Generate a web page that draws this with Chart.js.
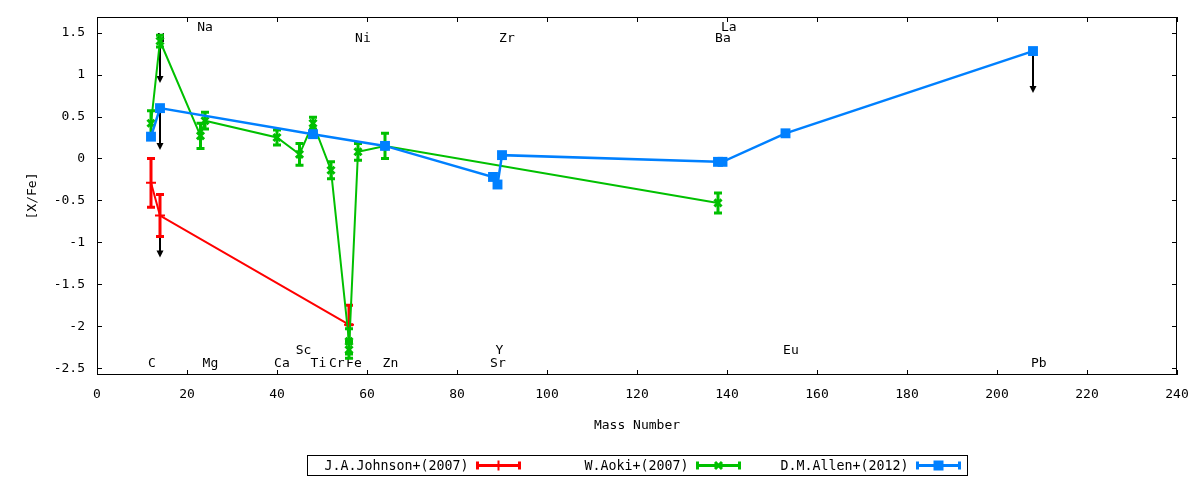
<!DOCTYPE html>
<html>
<head>
<meta charset="utf-8">
<script src="https://cdn.jsdelivr.net/npm/chart.js@4/dist/chart.umd.min.js"></script>
<style>
  html, body { margin: 0; padding: 0; background: #fff; }
</style>
</head>
<body>
<canvas id="myChart" width="1200" height="480"></canvas>
<script>
const FONT = "'DejaVu Sans Mono', monospace";

// J.A.Johnson+(2007)
const johnsonMass  = [12, 14, 56];
const johnsonVal   = [-0.29, -0.68, -1.98];
const johnsonErrUp = [0.29, 0.25, 0.23];
const johnsonErrDn = [0.29, 0.25, 0.0];
const johnsonLimit = [false, true, false];

// W.Aoki+(2007)
const aokiMass  = [12, 14, 23, 24, 40, 45, 48, 52, 56, 56, 58, 64, 138];
const aokiVal   = [0.42, 1.40, 0.27, 0.45, 0.25, 0.05, 0.42, -0.14, -2.18, -2.28, 0.08, 0.15, -0.53];
const aokiErr   = [0.15, 0.07, 0.15, 0.10, 0.09, 0.13, 0.07, 0.10, 0.15, 0.10, 0.10, 0.15, 0.12];
const aokiLimit = [false, true, false, false, false, false, false, false, false, false, false, false, false];

// D.M.Allen+(2012)
const allenMass  = [12, 14, 48, 64, 88, 89, 90, 138, 139, 153, 208];
const allenVal   = [0.26, 0.60, 0.29, 0.15, -0.22, -0.31, 0.04, -0.04, -0.04, 0.30, 1.28];
const allenErr   = [0, 0, 0, 0, 0, 0, 0, 0, 0, 0, 0];
const allenLimit = [false, true, false, false, false, false, false, false, false, false, true];

// element labels
const elemNames  = ['C', 'N', 'Na', 'Mg', 'Ca', 'Sc', 'Ti', 'Cr', 'Fe', 'Ni', 'Zn', 'Sr', 'Y', 'Zr', 'Ba', 'La', 'Eu', 'Pb'];
const elemLabelX = [12.2, 14.2, 24.0, 25.2, 41.1, 45.9, 49.2, 53.3, 57.1, 59.1, 65.2, 89.1, 89.4, 91.1, 139.1, 140.4, 154.2, 209.3];
const elemLabelY = [-2.44, 1.43, 1.56, -2.44, -2.44, -2.29, -2.44, -2.44, -2.44, 1.43, -2.44, -2.44, -2.29, 1.43, 1.43, 1.56, -2.29, -2.44];

const xTicks = [0, 20, 40, 60, 80, 100, 120, 140, 160, 180, 200, 220, 240];
const yTicks = [-2.5, -2, -1.5, -1, -0.5, 0, 0.5, 1, 1.5];
const arrowLen = 0.5;

const toPoints = (xs, ys) => xs.map((x, i) => ({x: x, y: ys[i]}));

const errInfo = [
  {up: johnsonErrUp, dn: johnsonErrDn, limit: johnsonLimit, color: '#ff0000'},
  {up: aokiErr, dn: aokiErr, limit: aokiLimit, color: '#00c000'},
  {up: allenErr, dn: allenErr, limit: allenLimit, color: '#0080ff'}
];

const decor = {
  id: 'decor',
  beforeDatasetsDraw(chart) {
    const ctx = chart.ctx, xs = chart.scales.x, ys = chart.scales.y;
    ctx.save();
    // element labels
    ctx.fillStyle = '#000';
    ctx.font = '13px ' + FONT;
    ctx.textAlign = 'center';
    ctx.textBaseline = 'middle';
    elemNames.forEach((n, i) => {
      ctx.fillText(n, xs.getPixelForValue(elemLabelX[i]), ys.getPixelForValue(elemLabelY[i]));
    });
    // upper-limit arrows
    ctx.strokeStyle = '#000';
    ctx.fillStyle = '#000';
    ctx.lineWidth = 2;
    chart.data.datasets.forEach((ds, di) => {
      ds.data.forEach((p, i) => {
        if (!errInfo[di].limit[i]) return;
        const px = xs.getPixelForValue(p.x);
        const y0 = ys.getPixelForValue(p.y);
        const y1 = ys.getPixelForValue(p.y - arrowLen);
        ctx.beginPath();
        ctx.moveTo(px, y0);
        ctx.lineTo(px, y1 - 5);
        ctx.stroke();
        ctx.beginPath();
        ctx.moveTo(px, y1);
        ctx.lineTo(px - 3.5, y1 - 7);
        ctx.lineTo(px + 3.5, y1 - 7);
        ctx.closePath();
        ctx.fill();
      });
    });
    ctx.restore();
  },
  beforeDatasetDraw(chart, args) {
    const info = errInfo[args.index];
    const ctx = chart.ctx, xs = chart.scales.x, ys = chart.scales.y;
    const area = chart.chartArea;
    ctx.save();
    ctx.beginPath();
    ctx.rect(area.left, area.top, area.right - area.left, area.bottom - area.top);
    ctx.clip();
    ctx.strokeStyle = info.color;
    ctx.lineWidth = 3;
    chart.data.datasets[args.index].data.forEach((p, i) => {
      if (!info.up[i] && !info.dn[i]) return;
      const px = xs.getPixelForValue(p.x);
      const yt = ys.getPixelForValue(p.y + info.up[i]);
      const yb = ys.getPixelForValue(p.y - info.dn[i]);
      ctx.beginPath();
      ctx.moveTo(px, yt); ctx.lineTo(px, yb);
      ctx.moveTo(px - 4, yt); ctx.lineTo(px + 4, yt);
      ctx.moveTo(px - 4, yb); ctx.lineTo(px + 4, yb);
      ctx.stroke();
    });
    ctx.restore();
  },
  afterDraw(chart) {
    const ctx = chart.ctx, xs = chart.scales.x, ys = chart.scales.y;
    const a = chart.chartArea;
    ctx.save();
    // frame and inward ticks on all four sides
    ctx.strokeStyle = '#000';
    ctx.lineWidth = 1;
    ctx.strokeRect(Math.round(a.left) + 0.5, Math.round(a.top) + 0.5,
                   Math.round(a.right - a.left) - 1, Math.round(a.bottom - a.top) - 1);
    ctx.beginPath();
    xTicks.forEach(v => {
      const px = Math.round(xs.getPixelForValue(v)) + 0.5;
      ctx.moveTo(px, a.bottom); ctx.lineTo(px, a.bottom - 5);
      ctx.moveTo(px, a.top); ctx.lineTo(px, a.top + 5);
    });
    yTicks.forEach(v => {
      const py = Math.round(ys.getPixelForValue(v)) + 0.5;
      ctx.moveTo(a.left, py); ctx.lineTo(a.left + 5, py);
      ctx.moveTo(a.right, py); ctx.lineTo(a.right - 5, py);
    });
    ctx.stroke();

    // legend box under the axis title
    const boxW = 660, boxH = 20;
    const boxX = Math.round((a.left + a.right) / 2 - boxW / 2) + 0.5;
    const boxY = 455.5;
    ctx.strokeRect(boxX, boxY, boxW, boxH);
    const entryW = boxW / chart.data.datasets.length;
    const cy = boxY + boxH / 2;
    ctx.font = '13.3px ' + FONT;
    ctx.textAlign = 'right';
    ctx.textBaseline = 'middle';
    chart.data.datasets.forEach((ds, i) => {
      const x0 = boxX + i * entryW;
      ctx.fillStyle = '#000';
      ctx.fillText(ds.label, x0 + 161, cy + 1);
      const s0 = x0 + 170, s1 = x0 + 212, sm = (s0 + s1) / 2;
      ctx.strokeStyle = ds.borderColor;
      ctx.fillStyle = ds.borderColor;
      ctx.lineWidth = 3;
      ctx.beginPath();
      ctx.moveTo(s0, cy); ctx.lineTo(s1, cy);
      ctx.moveTo(s0, cy - 4); ctx.lineTo(s0, cy + 4);
      ctx.moveTo(s1, cy - 4); ctx.lineTo(s1, cy + 4);
      ctx.stroke();
      ctx.lineWidth = ds.pointBorderWidth;
      ctx.beginPath();
      if (ds.pointStyle === 'cross') {
        ctx.moveTo(sm, cy - 5); ctx.lineTo(sm, cy + 5);
        ctx.moveTo(sm - 5, cy); ctx.lineTo(sm + 5, cy);
        ctx.stroke();
      } else if (ds.pointStyle === 'crossRot') {
        ctx.moveTo(sm - 3.5, cy - 3.5); ctx.lineTo(sm + 3.5, cy + 3.5);
        ctx.moveTo(sm - 3.5, cy + 3.5); ctx.lineTo(sm + 3.5, cy - 3.5);
        ctx.stroke();
      } else {
        ctx.fillRect(sm - 5, cy - 5, 10, 10);
      }
    });
    ctx.restore();
  }
};

const ctx = document.getElementById('myChart');

new Chart(ctx, {
  type: 'scatter',
  data: {
    datasets: [
      {
        label: 'J.A.Johnson+(2007)',
        data: toPoints(johnsonMass, johnsonVal),
        showLine: true,
        borderColor: '#ff0000',
        backgroundColor: '#ff0000',
        borderWidth: 2,
        pointStyle: 'cross',
        pointRadius: 5,
        pointBorderWidth: 2,
        order: 3
      },
      {
        label: 'W.Aoki+(2007)',
        data: toPoints(aokiMass, aokiVal),
        showLine: true,
        borderColor: '#00c000',
        backgroundColor: '#00c000',
        borderWidth: 2,
        pointStyle: 'crossRot',
        pointRadius: 5,
        pointBorderWidth: 3,
        order: 2
      },
      {
        label: 'D.M.Allen+(2012)',
        data: toPoints(allenMass, allenVal),
        showLine: true,
        borderColor: '#0080ff',
        backgroundColor: '#0080ff',
        borderWidth: 2.5,
        pointStyle: 'rect',
        pointRadius: 7,
        pointBorderWidth: 0,
        order: 1
      }
    ]
  },
  options: {
    responsive: false,
    animation: false,
    events: [],
    layout: { padding: { left: 0, right: 23, top: 17, bottom: 0 } },
    plugins: {
      legend: { display: false },
      tooltip: { enabled: false }
    },
    scales: {
      x: {
        type: 'linear',
        min: 0,
        max: 240,
        grid: { display: false, drawTicks: false },
        border: { display: false },
        ticks: { stepSize: 20, padding: 12, maxRotation: 0, color: '#000', font: { family: FONT, size: 13 } },
        title: { display: true, text: 'Mass Number', color: '#000', font: { family: FONT, size: 13 }, padding: { top: 0, bottom: 47 } },
        afterFit: (scale) => { scale.height = 105; scale.paddingLeft = 0; scale.paddingRight = 0; }
      },
      y: {
        type: 'linear',
        min: -2.58,
        max: 1.686,
        grid: { display: false, drawTicks: false },
        border: { display: false },
        ticks: {
          stepSize: 0.5,
          includeBounds: false,
          padding: 12,
          color: '#000',
          font: { family: FONT, size: 13 },
          callback: (v) => String(Number(v.toFixed(2)))
        },
        title: { display: true, text: '[X/Fe]', color: '#000', font: { family: FONT, size: 13 }, padding: { top: 25, bottom: 0 } },
        afterFit: (scale) => { scale.width = 97; scale.paddingTop = 0; scale.paddingBottom = 0; }
      }
    }
  },
  plugins: [decor]
});
</script>
</body>
</html>
